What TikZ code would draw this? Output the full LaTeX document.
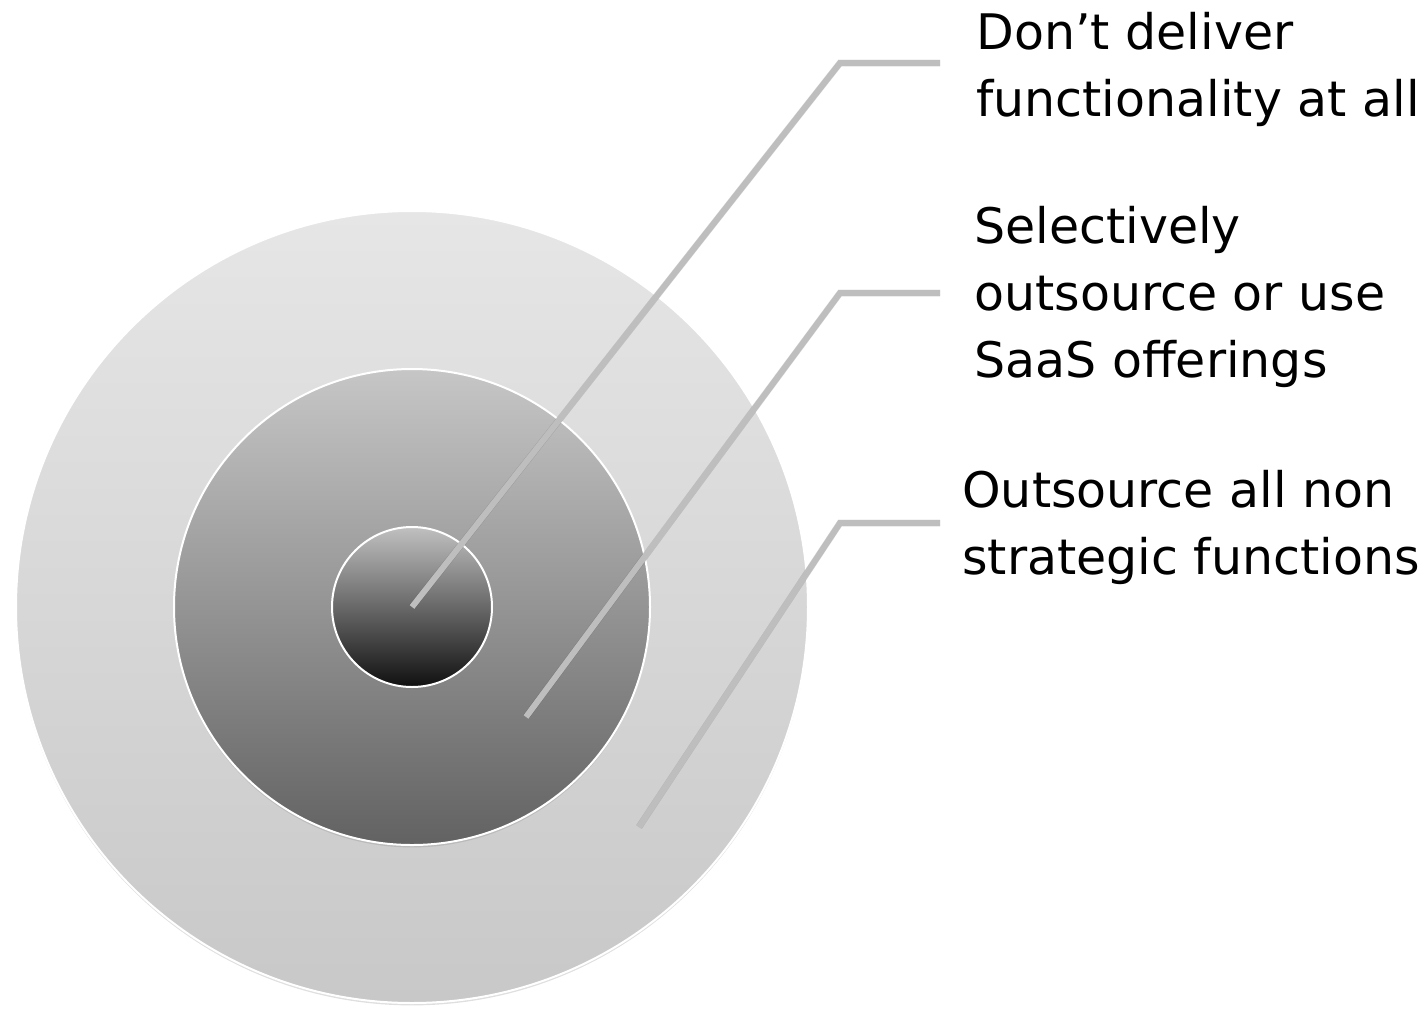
\documentclass[tikz,border=0pt]{standalone}
\usepackage{fontspec}
\setmainfont{DejaVu Sans}
\usetikzlibrary{shadows}

\definecolor{outertop}{HTML}{E6E6E6}
\definecolor{outerbot}{HTML}{C8C8C8}
\definecolor{midtop}{HTML}{C6C6C6}
\definecolor{midbot}{HTML}{626262}
\definecolor{coretop}{HTML}{C0C0C0}
\definecolor{coremid}{HTML}{8C8C8C}
\definecolor{corebot}{HTML}{101010}
\definecolor{leadgray}{HTML}{BEBEBE}

\begin{document}
\begin{tikzpicture}[x = 0.5pt, y = -0.5pt,
	ring/.style = {circle, draw = white, line width = 1pt, inner sep = 0pt,
		drop shadow = {shadow xshift = 0pt, shadow yshift = -1.2pt, opacity = 0.25}},
	leader/.style = {draw = leadgray, line width = 3pt, line join = miter},
	leadshadow/.style = {draw = black, opacity = 0.12, line width = 3.4pt, line join = miter},
	lbl/.style = {anchor = west, align = left, inner sep = 0pt,
		font = \fontsize{24.5pt}{33.5pt}\selectfont}]
	\useasboundingbox (0,0) rectangle (1426,1008);
	% the three rings
	\node[ring, minimum size = 396pt, top color = outertop, bottom color = outerbot] (outer) at (412,607) {};
	\node[ring, minimum size = 238pt, top color = midtop, bottom color = midbot] (mid) at (412,607) {};
	\node[ring, minimum size = 80pt, top color = coretop, middle color = coremid, bottom color = corebot] (core) at (412,607) {};
	% texts
	\node[lbl] (t1) at (976,69) {Don’t deliver\\functionality at all};
	\node[lbl] (t2) at (974,297) {Selectively\\outsource or use\\SaaS offerings};
	\node[lbl] (t3) at (962,527) {Outsource all non\\strategic functions};
	% leader lines
	\coordinate (s2) at (526,717);
	\coordinate (s3) at (639,827);
	\coordinate (e1) at (840,63);
	\coordinate (e2) at (840,293);
	\coordinate (e3) at (840,523);
	\coordinate (f1) at (940,63);
	\coordinate (f2) at (940,293);
	\coordinate (f3) at (940,523);
	\begin{scope}[xshift = 1pt, yshift = -1.5pt]
		\draw[leadshadow] (core.center) -- (e1) -- (f1);
		\draw[leadshadow] (s2) -- (e2) -- (f2);
		\draw[leadshadow] (s3) -- (e3) -- (f3);
	\end{scope}
	\draw[leader] (core.center) -- (e1) -- (f1);
	\draw[leader] (s2) -- (e2) -- (f2);
	\draw[leader] (s3) -- (e3) -- (f3);
\end{tikzpicture}
\end{document}
